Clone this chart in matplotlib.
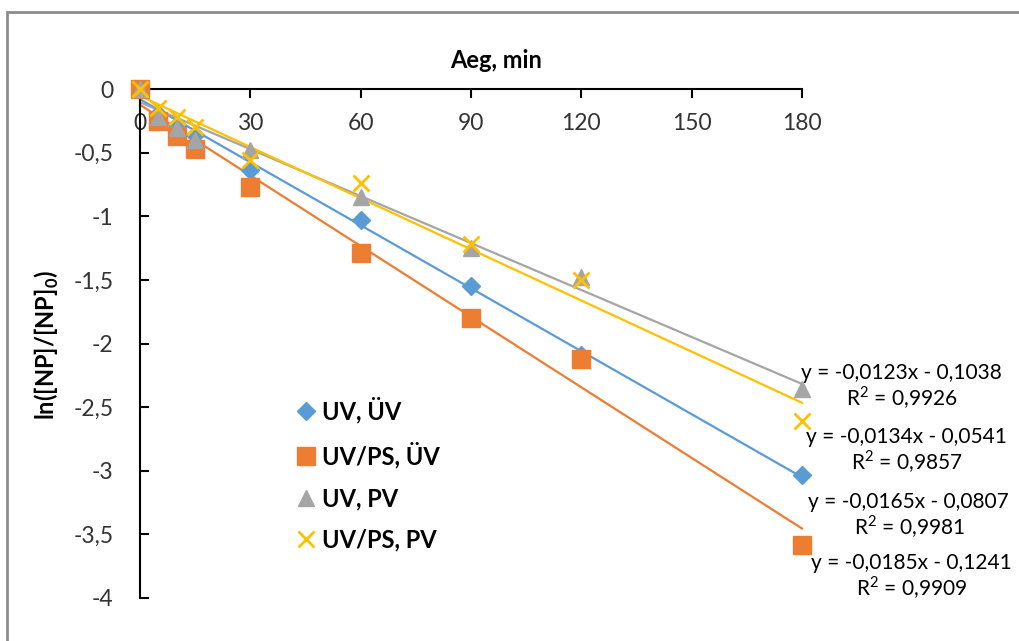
import numpy as np
import matplotlib.pyplot as plt
from matplotlib.patches import Rectangle

plt.rcParams['font.family'] = ['Lato', 'DejaVu Sans']
plt.rcParams['mathtext.fontset'] = 'custom'
plt.rcParams['mathtext.rm'] = 'Lato'
plt.rcParams['mathtext.bf'] = 'Lato:bold'

# data
time_min = [0, 5, 10, 15, 30, 60, 90, 120, 180]
uv_uv = [0, -0.20, -0.28, -0.36, -0.635, -1.03, -1.55, -2.09, -3.03]
uvps_uv = [0, -0.25, -0.37, -0.47, -0.77, -1.29, -1.80, -2.12, -3.58]
uv_pv = [0, -0.22, -0.31, -0.40, -0.48, -0.85, -1.25, -1.48, -2.36]
uvps_pv = [0, -0.15, -0.22, -0.30, -0.56, -0.74, -1.22, -1.50, -2.61]

labels = ['UV, ÜV', 'UV/PS, ÜV', 'UV, PV', 'UV/PS, PV']
slopes = [-0.0165, -0.0185, -0.0123, -0.0134]
intercepts = [-0.0807, -0.1241, -0.1038, -0.0541]
r2 = ['0,9981', '0,9909', '0,9926', '0,9857']

yticks = [0, -0.5, -1, -1.5, -2, -2.5, -3, -3.5, -4]
ytick_labels = ['0', '-0,5', '-1', '-1,5', '-2', '-2,5', '-3', '-3,5', '-4']
xticks = [0, 30, 60, 90, 120, 150, 180]

colors = ['#5B9BD5', '#ED7D31', '#A5A5A5', '#FFC000']
markers = ['D', 's', '^', 'x']
msizes = [9, 13, 11, 12]

fig = plt.figure(figsize=(10.19, 6.41), dpi=100)
ax = fig.add_axes([140/1019, 1-598/641, (802-140)/1019, (598-89)/641])

series = [uv_uv, uvps_uv, uv_pv, uvps_pv]
xfit = np.array([0, 180])
for s, lab, c, m, ms, k, b in zip(series, labels, colors, markers, msizes, slopes, intercepts):
    ax.plot(xfit, k*xfit + b, color=c, lw=1.6, zorder=2, clip_on=False)
    if m == 'x':
        ax.plot(time_min, s, linestyle='none', marker=m, ms=ms, mew=2, color=c,
                label=lab, zorder=3, clip_on=False)
    else:
        ax.plot(time_min, s, linestyle='none', marker=m, ms=ms, color=c, mec=c,
                label=lab, zorder=3, clip_on=False)

ax.set_xlim(0, 180)
ax.set_ylim(-4, 0)
ax.set_xticks(xticks)
ax.set_yticks(yticks)
ax.set_yticklabels(ytick_labels)

ax.spines['top'].set_visible(False)
ax.spines['right'].set_visible(False)
ax.spines['bottom'].set_position(('data', 0))
ax.spines['bottom'].set_linewidth(1.5)
ax.spines['left'].set_linewidth(1.5)
ax.tick_params(axis='both', width=1.5, length=6.5, labelsize=16.5, colors='black')
ax.tick_params(axis='x', direction='out', pad=11)
ax.tick_params(axis='y', direction='in', pad=19)
for t in ax.get_xticklabels() + ax.get_yticklabels():
    t.set_color('#333333')

# equation labels
eq_pos = [(908, 502), (911, 563), (901, 373), (906, 437)]
for (px, py), k, b, r in zip(eq_pos, slopes, intercepts, r2):
    eq = 'y = %sx - %s' % (('%.4f' % k).replace('.', ','), ('%.4f' % -b).replace('.', ','))
    fig.text(px/1019, 1-py/641, eq, ha='center', va='center', fontsize=15)
    fig.text((px+1)/1019, 1-(py+25)/641, 'R$^2$ = ' + r, ha='center', va='center', fontsize=15)

fig.text(496/1019, 1-60/641, 'Aeg, min', ha='center', va='center', fontsize=17, fontweight='bold')
fig.text(47/1019, 1-345/641, r'ln([NP]/[NP]$_\mathbf{0}$)', ha='center', va='center',
         rotation=90, fontsize=17, fontweight='bold')

leg = ax.legend(loc='upper left', bbox_to_anchor=(297/1019, 1-397/641), bbox_transform=fig.transFigure,
                frameon=False, prop={'weight': 'bold', 'size': 17}, handlelength=0.8,
                handletextpad=0.25, labelspacing=0.78, borderaxespad=0, borderpad=0)

fig.patches.append(Rectangle((7/1019, -0.1), 1.2, 1-12/641+0.1, transform=fig.transFigure,
                             fill=False, edgecolor='#8c8c8c', lw=2))

fig.savefig('out.png', dpi=100)
